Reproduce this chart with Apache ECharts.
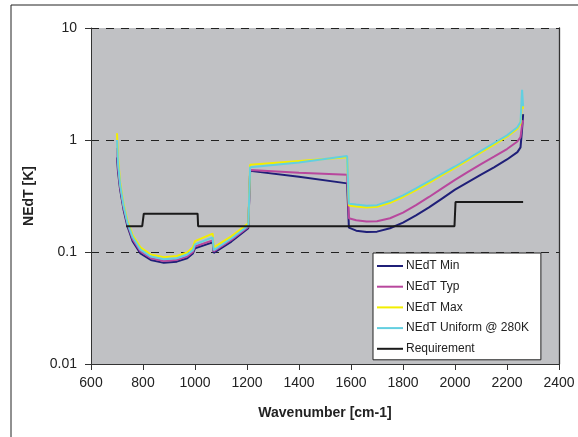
<!doctype html>
<html>
<head>
<meta charset="UTF-8">
<title>NEdT</title>
<script src="https://cdn.jsdelivr.net/npm/echarts@6/dist/echarts.min.js"></script>
<style>
  html, body { margin: 0; padding: 0; background: #fff; }
  #main { width: 578px; height: 437px; }
</style>
</head>
<body>
<div id="main"></div>
<script>
// wavenumber grid shared by the four NEdT curves (repeated x = step)
var wn = [700, 704, 712, 725, 740, 760, 790, 830, 880, 930, 970, 992, 1000, 1068, 1072, 1140, 1205, 1212, 1400, 1585, 1592,
          1620, 1660, 1700, 1750, 1800, 1850, 1900, 1950, 2000, 2050, 2100, 2150, 2200, 2240, 2252, 2258, 2262];
var nedtMin  = [0.70, 0.52, 0.36, 0.24, 0.17, 0.125, 0.097, 0.085, 0.080, 0.082, 0.088, 0.097, 0.108, 0.122, 0.098, 0.124, 0.163, 0.53, 0.47, 0.41, 0.165,
                0.155, 0.151, 0.152, 0.163, 0.183, 0.212, 0.25, 0.30, 0.36, 0.42, 0.49, 0.57, 0.67, 0.78, 0.86, 1.25, 1.70];
var nedtTyp  = [0.85, 0.56, 0.38, 0.25, 0.178, 0.13, 0.101, 0.088, 0.083, 0.085, 0.091, 0.100, 0.112, 0.127, 0.101, 0.128, 0.167, 0.54, 0.51, 0.49, 0.20,
                0.192, 0.187, 0.188, 0.20, 0.225, 0.262, 0.31, 0.37, 0.44, 0.52, 0.61, 0.71, 0.83, 0.97, 1.06, 1.35, 1.50];
var nedtMax  = [1.15, 0.70, 0.42, 0.27, 0.19, 0.142, 0.110, 0.095, 0.090, 0.092, 0.099, 0.110, 0.125, 0.146, 0.110, 0.138, 0.180, 0.60, 0.65, 0.70, 0.26,
                0.255, 0.250, 0.253, 0.275, 0.31, 0.357, 0.415, 0.485, 0.565, 0.66, 0.775, 0.91, 1.07, 1.26, 1.40, 2.20, 1.90];
var nedtUnif = [1.00, 0.62, 0.40, 0.26, 0.183, 0.136, 0.105, 0.091, 0.086, 0.088, 0.095, 0.104, 0.117, 0.135, 0.104, 0.132, 0.172, 0.57, 0.63, 0.72, 0.27,
                0.265, 0.259, 0.262, 0.285, 0.32, 0.37, 0.43, 0.50, 0.58, 0.68, 0.80, 0.94, 1.10, 1.30, 1.45, 2.80, 2.00];

// requirement step curve
var reqWn  = [735, 797, 803, 1010, 1012, 1998, 2002, 2262];
var reqVal = [0.17, 0.17, 0.22, 0.22, 0.17, 0.17, 0.28, 0.28];

var xTicks = [600, 800, 1000, 1200, 1400, 1600, 1800, 2000, 2200, 2400];
var yTickText = { '0.01': '0.01', '0.1': '0.1', '1': '1', '10': '10' };

function pairs(xs, ys) {
    var out = [];
    for (var i = 0; i < xs.length; i++) out.push([xs[i], ys[i]]);
    return out;
}

var font = 'Liberation Sans, Arial, sans-serif';

function lineSeries(name, ys, color) {
    return {
        name: name,
        type: 'line',
        data: pairs(wn, ys),
        symbol: 'none',
        lineStyle: { color: color, width: 2 },
        itemStyle: { color: color }
    };
}

var myChart = echarts.init(document.getElementById('main'));
var option = {
    animation: false,
    textStyle: { fontFamily: font },
    graphic: [{
        type: 'rect',
        shape: { x: 11, y: 5, width: 600, height: 500 },
        style: { fill: 'none', stroke: '#222', lineWidth: 1 },
        z: -10
    }],
    grid: {
        left: 91, top: 28, width: 468, height: 336,
        show: true, backgroundColor: '#c0c1c4', borderWidth: 0
    },
    legend: {
        orient: 'vertical',
        left: 373, top: 253,
        padding: [7, 12, 5, 4],
        icon: 'rect',
        itemWidth: 26, itemHeight: 2, itemGap: 8.7,
        backgroundColor: '#fff',
        borderColor: '#222', borderWidth: 1, borderRadius: 0,
        textStyle: { fontSize: 12, color: '#222', fontFamily: font, padding: [0, 0, 0, -2], lineHeight: 12 },
        data: ['NEdT Min', 'NEdT Typ', 'NEdT Max', 'NEdT Uniform @ 280K', 'Requirement']
    },
    xAxis: {
        type: 'value',
        min: 600, max: 2400, interval: 200,
        name: 'Wavenumber [cm-1]',
        nameLocation: 'middle', nameGap: 42,
        nameTextStyle: { fontSize: 14, fontWeight: 'bold', color: '#222', fontFamily: font },
        axisLine: { lineStyle: { color: '#333', width: 1 } },
        axisTick: { show: true, inside: false, length: 6, lineStyle: { color: '#333' } },
        axisLabel: {
            fontSize: 14, color: '#222', margin: 12, fontFamily: font,
            formatter: function (v) { return xTicks.indexOf(v) >= 0 ? String(v) : ''; }
        },
        splitLine: { show: false }
    },
    yAxis: [{
        type: 'log', logBase: 10,
        min: 0.01, max: 10,
        name: 'NEdT [K]',
        nameLocation: 'middle', nameGap: 55, nameRotate: 90,
        nameTextStyle: { fontSize: 14, fontWeight: 'bold', color: '#222', fontFamily: font },
        axisLine: { show: true, lineStyle: { color: '#333', width: 1 } },
        axisTick: { show: true, inside: false, length: 6, lineStyle: { color: '#333' } },
        axisLabel: {
            fontSize: 14, color: '#222', margin: 14, fontFamily: font,
            formatter: function (v) {
                var k = String(parseFloat(v.toPrecision(3)));
                return yTickText[k] !== undefined ? yTickText[k] : '';
            }
        },
        splitLine: { show: true, lineStyle: { color: '#222', type: [8, 7], width: 1.2 } },
        minorTick: { show: false }
    }, {
        type: 'log', logBase: 10,
        min: 0.01, max: 10, position: 'right',
        axisLine: { show: true, lineStyle: { color: '#333', width: 1.3 } },
        axisTick: { show: false },
        axisLabel: { show: false },
        splitLine: { show: false }
    }],
    series: [
        lineSeries('NEdT Min', nedtMin, '#1f1f78'),
        lineSeries('NEdT Typ', nedtTyp, '#b8479d'),
        lineSeries('NEdT Max', nedtMax, '#f2ee00'),
        lineSeries('NEdT Uniform @ 280K', nedtUnif, '#63cfe0'),
        {
            name: 'Requirement',
            type: 'line',
            data: pairs(reqWn, reqVal),
            symbol: 'none',
            lineStyle: { color: '#1a1a1a', width: 2 },
            itemStyle: { color: '#1a1a1a' }
        }
    ]
};
myChart.setOption(option);
</script>
</body>
</html>
